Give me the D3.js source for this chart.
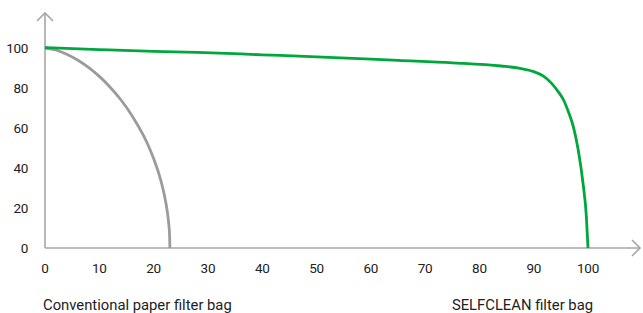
<!DOCTYPE html>
<html><head><meta charset="utf-8">
<script src="https://cdn.jsdelivr.net/npm/d3@7"></script>
<style>body{margin:0;background:#fff}text{font-family:Roboto,"DejaVu Sans",sans-serif}</style>
</head><body>
<svg id="c" width="643" height="313"></svg>
<script>
const xTicks = [0,10,20,30,40,50,60,70,80,90,100];
const yTicks = [0,20,40,60,80,100];
const paperX = [0,2,4,6,8,10,12,14,16,18,19,20,21,22,22.5,22.8,22.95,23];
const paperY = [100,99,96.9,94,90.3,85.8,80.4,74,66.3,56.9,51.4,44.7,36.9,26.2,18.6,11.8,5.9,0];
const selfX = [0,10,20,28,40,50,65,75,84,87.5,90,91.8,93.3,94.5,95.5,96.4,97.3,98.2,99.1,99.7,100];
const selfY = [100.2,99.2,98.3,97.8,96.6,95.6,93.8,92.6,91,89.8,88.2,85.9,82.3,78.2,74,68,60.7,49,32,15.7,0];
const seriesNames = ["Conventional paper filter bag","SELFCLEAN filter bag"];

const svg = d3.select("#c");
const x = d3.scaleLinear().domain([0,100]).range([45,588]);
const y = d3.scaleLinear().domain([0,100]).range([248,48]);
const axisColor = "#a6a6a6";

svg.append("line").attr("x1",x(0)).attr("x2",x(0)).attr("y1",248).attr("y2",13)
  .attr("stroke",axisColor).attr("stroke-width",1.6);
svg.append("polyline").attr("points",`${x(0)-8},21 ${x(0)},13 ${x(0)+8},21`)
  .attr("fill","none").attr("stroke",axisColor).attr("stroke-width",1.6);
svg.append("line").attr("x1",x(0)).attr("x2",640).attr("y1",y(0)).attr("y2",y(0))
  .attr("stroke",axisColor).attr("stroke-width",1.6);
svg.append("polyline").attr("points",`632,${y(0)-8} 640,${y(0)} 632,${y(0)+8}`)
  .attr("fill","none").attr("stroke",axisColor).attr("stroke-width",1.6);

svg.append("g").selectAll("text").data(xTicks).join("text")
  .attr("x",d=>x(d)).attr("y",272.5).attr("text-anchor","middle")
  .attr("font-size",13.5).attr("letter-spacing",-0.3).attr("fill","#222").text(d=>d);
svg.append("g").selectAll("text").data(yTicks).join("text")
  .attr("x",28).attr("y",d=>y(d)+5).attr("text-anchor","end")
  .attr("font-size",13.5).attr("letter-spacing",-0.3).attr("fill","#222").text(d=>d);

const line = d3.line().x(d=>x(d[0])).y(d=>y(d[1])).curve(d3.curveMonotoneX);
svg.append("path").datum(paperX.map((v,i)=>[v,paperY[i]])).attr("d",line)
  .attr("fill","none").attr("stroke","#9b9b9b").attr("stroke-width",2.8);
svg.append("path").datum(selfX.map((v,i)=>[v,selfY[i]])).attr("d",line)
  .attr("fill","none").attr("stroke","#00a73c").attr("stroke-width",2.8);

svg.append("text").attr("x",43).attr("y",310).attr("font-size",14.8).attr("fill","#222").text(seriesNames[0]);
svg.append("text").attr("x",593).attr("y",310).attr("text-anchor","end").attr("font-size",14.8).attr("fill","#222").text(seriesNames[1]);
</script>
</body></html>
